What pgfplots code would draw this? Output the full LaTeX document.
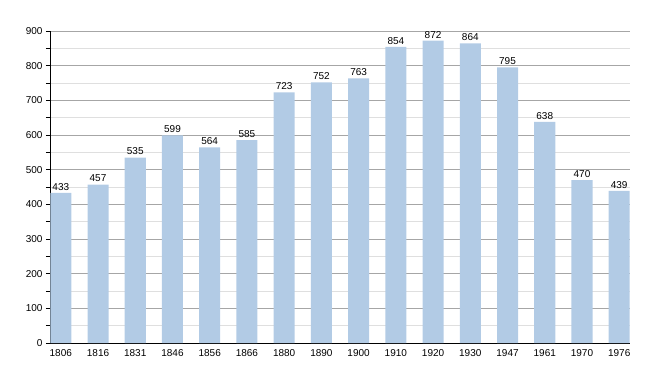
\documentclass[border=0pt]{standalone}
\usepackage{pgfplots}
\pgfplotsset{compat=1.18}
\usepackage{fontspec}
\setmainfont{Liberation Sans}
\definecolor{barblue}{HTML}{B2CBE5}
\begin{document}
\begin{tikzpicture}
\path (-50pt,-30pt) rectangle (610pt,343pt);
\begin{axis}[
  at={(0,0)}, anchor=south west,
  scale only axis, width=580pt, height=312pt,
  xmin=-0.29, xmax=15.29, ymin=0, ymax=900,
  xtick=data,
  xticklabels={1806,1816,1831,1846,1856,1866,1880,1890,1900,1910,1920,1930,1947,1961,1970,1976},
  ytick={0,100,...,900},
  minor ytick={50,150,...,850},
  axis x line*=bottom, axis y line*=left,
  x axis line style={-, black, line width=0.9pt},
  y axis line style={-, black, line width=0.9pt},
  tick align=outside,
  major tick length=4pt, minor tick length=4pt,
  xtick style={draw=none},
  ytick style={black, line width=0.6pt},
  minor y tick style={black, line width=0.6pt},
  ymajorgrids, yminorgrids,
  major grid style={draw=gray!70, line width=0.6pt},
  minor grid style={draw=gray!25, line width=0.6pt},
  tick label style={font=\fontsize{10}{12}\selectfont},
  /pgf/number format/assume math mode=true,
  yticklabel style={/pgf/number format/1000 sep={}},
  xticklabel style={yshift=1pt},
  axis on top=false,
]
\addplot[ybar, bar width=0.565, fill=barblue, draw=none,
  nodes near coords, every node near coord/.style={font=\fontsize{10}{12}\selectfont, black, yshift=-1pt}]
  coordinates {(0,433) (1,457) (2,535) (3,599) (4,564) (5,585) (6,723) (7,752) (8,763) (9,854) (10,872) (11,864) (12,795) (13,638) (14,470) (15,439)};
\end{axis}
\end{tikzpicture}
\end{document}
